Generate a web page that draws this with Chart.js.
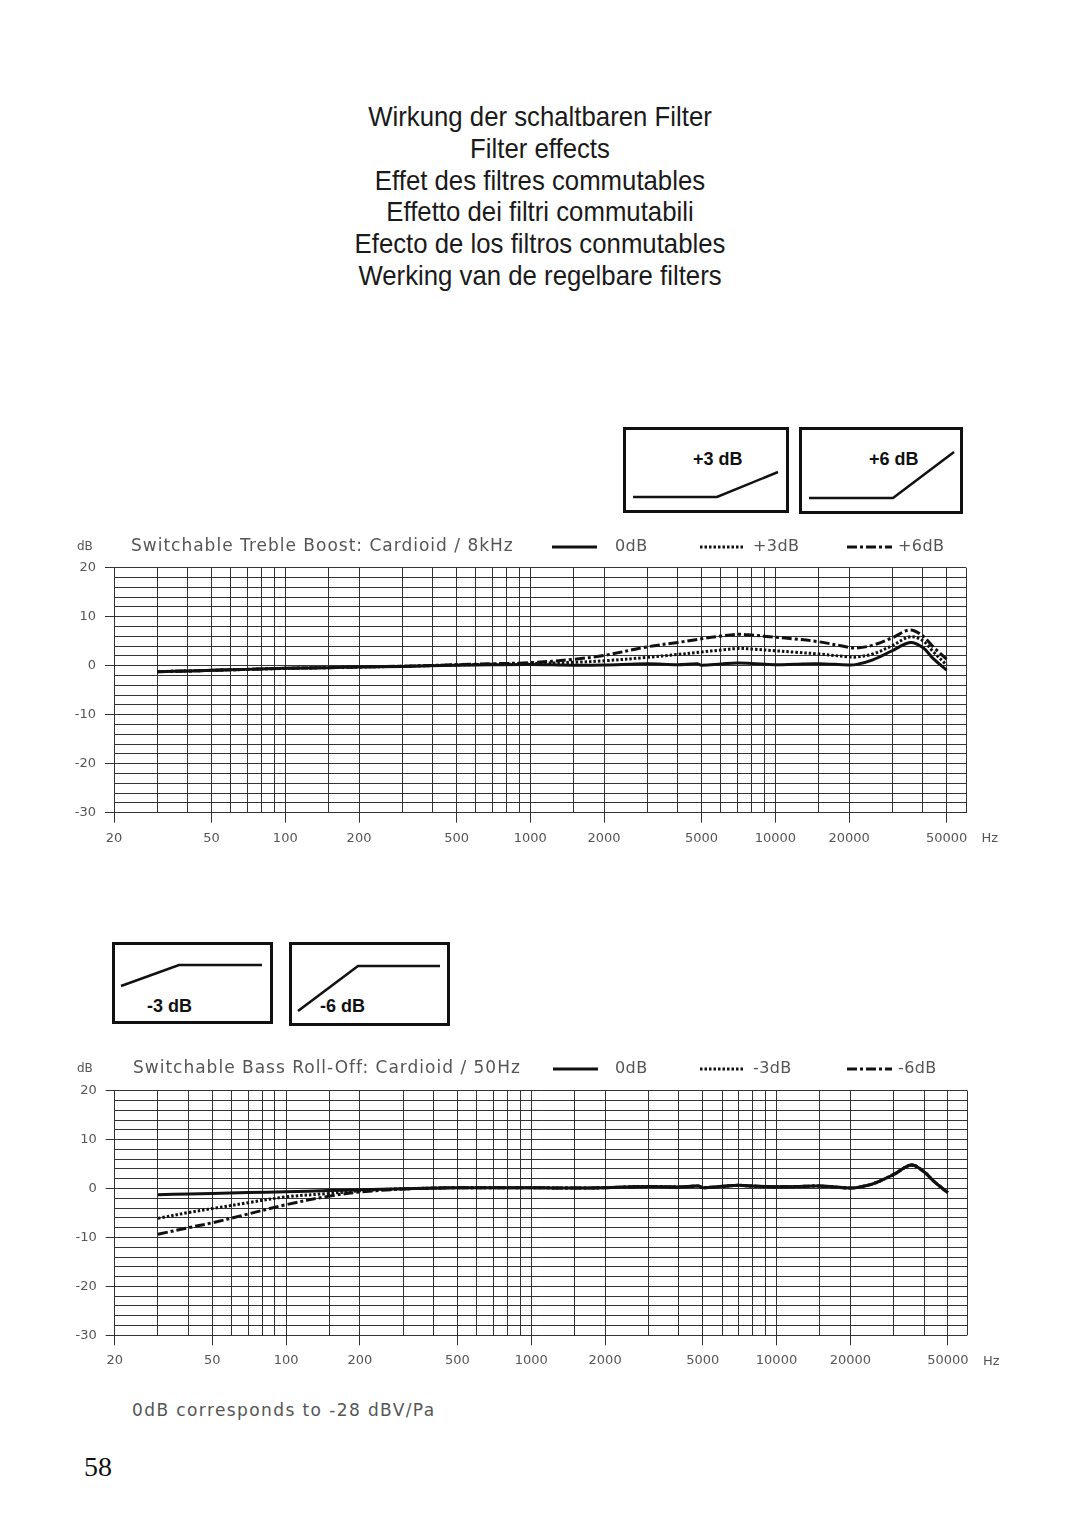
<!DOCTYPE html>
<html>
<head>
<meta charset="utf-8">
<title>Filter effects</title>
<script src="https://cdn.jsdelivr.net/npm/chart.js@4.4.1/dist/chart.umd.min.js"></script>
<style>
  body { margin: 0; background: #fff; }
  #page { position: relative; width: 1080px; height: 1521px; overflow: hidden; background: #fff; }
  .titles {
    position: absolute; left: 0; top: 101px; width: 1080px; text-align: center;
    font-family: "Liberation Sans", Arial, sans-serif;
    font-size: 28px; line-height: 31.8px; color: #1a1a1a;
    transform: scaleX(0.92); transform-origin: 540px 0;
  }
  canvas { position: absolute; left: 0; }
  #icons { position: absolute; left: 0; top: 0; }
  .note {
    position: absolute; left: 132px; top: 1400px; font-family: "DejaVu Sans", sans-serif;
    font-size: 17px; letter-spacing: 1.4px; color: #555;
  }
  .pageno {
    position: absolute; left: 84px; top: 1451px; font-family: "Liberation Serif", serif;
    font-size: 28px; color: #111;
  }
</style>
</head>
<body>
<div id="page">
  <div class="titles">
    <div>Wirkung der schaltbaren Filter</div>
    <div>Filter effects</div>
    <div>Effet des filtres commutables</div>
    <div>Effetto dei filtri commutabili</div>
    <div>Efecto de los filtros conmutables</div>
    <div>Werking van de regelbare filters</div>
  </div>

  <svg id="icons" width="1080" height="1521">
    <g fill="none" stroke="#111">
      <rect x="624.5" y="428.5" width="163" height="83" stroke-width="3"/>
      <rect x="800.5" y="428.5" width="161" height="84" stroke-width="3"/>
      <polyline points="633,497 717,497 778,472" stroke-width="2.5"/>
      <polyline points="809,498 893,498 954,452" stroke-width="2.5"/>
      <rect x="113.5" y="943.5" width="158" height="79" stroke-width="3"/>
      <rect x="290.5" y="943.5" width="158" height="81" stroke-width="3"/>
      <polyline points="121,986 179,965 262,965" stroke-width="2.5"/>
      <polyline points="298,1011 358,966 440,966" stroke-width="2.5"/>
    </g>
    <g fill="#111" font-family="Liberation Sans, Arial, sans-serif" font-weight="bold" font-size="18">
      <text x="693" y="465">+3 dB</text>
      <text x="869" y="465">+6 dB</text>
      <text x="147" y="1012">-3 dB</text>
      <text x="320" y="1012">-6 dB</text>
    </g>
  </svg>

  <canvas id="treble" width="1080" height="320" style="top:530px"></canvas>
  <canvas id="bass" width="1080" height="325" style="top:1050px"></canvas>

  <div class="note">0dB corresponds to -28 dBV/Pa</div>
  <div class="pageno">58</div>
</div>

<script>
// Measured frequencies (Hz), shared by all curves
const freqs = [30, 40, 50, 70, 100, 150, 200, 300, 500, 700, 1000, 1500, 2000, 3000, 4000, 4800, 5000,
               6000, 7000, 8000, 10000, 12000, 15000, 20000, 21500, 25000, 30000, 35500, 40000, 44000, 50000];

// Treble boost (dB)
const trebleFlat = [-1.22, -1.08, -0.95, -0.75, -0.54, -0.4, -0.27, -0.14, 0.1, 0.2, 0.25, 0.1, 0.15, 0.4, 0.2, 0.4, 0.1,
                    0.35, 0.55, 0.45, 0.2, 0.3, 0.4, 0.15, 0.27, 1.2, 3.05, 4.75, 3.7, 1.5, -0.9];
const treblePlus3 = [-1.22, -1.08, -0.95, -0.75, -0.54, -0.4, -0.27, -0.12, 0.15, 0.3, 0.45, 0.68, 1.0, 1.7, 2.3, 2.7, 2.8,
                     3.2, 3.5, 3.4, 3.05, 2.75, 2.4, 1.8, 1.78, 2.4, 4.1, 5.9, 5.1, 2.9, 0.15];
const treblePlus6 = [-1.22, -1.08, -0.95, -0.75, -0.54, -0.4, -0.25, -0.1, 0.2, 0.4, 0.62, 1.3, 2.1, 3.85, 4.75, 5.35, 5.5,
                     6.05, 6.4, 6.25, 5.8, 5.45, 4.9, 3.75, 3.6, 4.2, 5.7, 7.3, 6.05, 3.9, 1.35];

// Bass roll-off (dB)
const bassFlat = [-1.26, -1.12, -1.0, -0.82, -0.65, -0.42, -0.24, -0.03, 0.17, 0.17, 0.17, 0.1, 0.17, 0.44, 0.3, 0.5, 0.17,
                  0.45, 0.65, 0.5, 0.37, 0.4, 0.5, 0.1, 0.24, 1.05, 2.85, 4.8, 3.4, 1.4, -0.85];
const bassMinus3 = [-6.1, -4.9, -4.1, -2.9, -1.7, -1.0, -0.44, -0.05, 0.17, 0.17, 0.17, 0.1, 0.17, 0.44, 0.3, 0.5, 0.17,
                    0.45, 0.65, 0.5, 0.37, 0.4, 0.5, 0.1, 0.24, 1.05, 2.85, 4.8, 3.4, 1.4, -0.85];
const bassMinus6 = [-9.35, -8.0, -7.0, -5.2, -3.3, -1.55, -0.71, -0.1, 0.17, 0.17, 0.17, 0.1, 0.17, 0.44, 0.3, 0.5, 0.17,
                    0.45, 0.65, 0.5, 0.37, 0.4, 0.5, 0.1, 0.24, 1.05, 2.85, 4.8, 3.4, 1.4, -0.85];

// Axis grid and labels
const gridFreqs = [20, 30, 40, 50, 60, 70, 80, 90, 100, 150, 200, 300, 400, 500, 600, 700, 800, 900, 1000,
                   1500, 2000, 3000, 4000, 5000, 6000, 7000, 8000, 9000, 10000, 15000, 20000, 30000, 40000, 50000, 60000];
const labelFreqs = [20, 50, 100, 200, 500, 1000, 2000, 5000, 10000, 20000, 50000];
const dbLabels = [20, 10, 0, -10, -20, -30];

const GRID = '#333';
const TEXT = '#555';
const FONT = '"DejaVu Sans", sans-serif';

function points(values) {
    return freqs.map((f, i) => ({ x: f, y: values[i] }));
}

function line(label, values, dash) {
    return {
        label: label,
        data: points(values),
        borderColor: '#111',
        borderWidth: 3,
        borderDash: dash,
        borderCapStyle: 'butt',
        pointRadius: 0,
        tension: 0.35,
        fill: false
    };
}

/**
 * Draws the header line (unit, title, legend) and the "Hz" unit
 */
const headerPlugin = {
    id: 'pageHeader',
    afterDraw(chart, args, opts) {
        const ctx = chart.ctx;
        ctx.save();
        ctx.fillStyle = TEXT;
        ctx.textBaseline = 'middle';
        ctx.font = '12px ' + FONT;
        ctx.fillText('dB', 77, opts.y);

        ctx.font = '17px ' + FONT;
        ctx.letterSpacing = '1px';
        ctx.fillText(opts.title, opts.titleX, opts.y);

        ctx.font = '16px ' + FONT;
        ctx.letterSpacing = '0.4px';
        chart.data.datasets.forEach((ds, i) => {
            const x0 = opts.legendX[i];
            ctx.beginPath();
            ctx.setLineDash(ds.borderDash || []);
            ctx.lineWidth = 3;
            ctx.strokeStyle = '#111';
            ctx.moveTo(x0, opts.y);
            ctx.lineTo(x0 + 45, opts.y);
            ctx.stroke();
            ctx.fillText(ds.label, opts.textX[i], opts.y);
        });

        ctx.setLineDash([]);
        ctx.letterSpacing = '0px';
        ctx.font = '13px ' + FONT;
        const xs = chart.scales.x;
        ctx.fillText('Hz', xs.getPixelForValue(50000) + 35, chart.chartArea.bottom + 26);
        ctx.restore();
    }
};

function makeChart(id, datasets, header, area) {
    const canvas = document.getElementById(id);
    return new Chart(canvas.getContext('2d'), {
        type: 'line',
        data: { datasets: datasets },
        options: {
            responsive: false,
            animation: false,
            devicePixelRatio: 1,
            layout: { padding: { left: 0, right: 1080 - area.right, top: area.top, bottom: 0 } },
            plugins: {
                legend: { display: false },
                tooltip: { enabled: false },
                pageHeader: header
            },
            scales: {
                x: {
                    type: 'logarithmic',
                    min: 20,
                    max: 60000,
                    afterBuildTicks: scale => {
                        scale.ticks = gridFreqs.map(v => ({ value: v }));
                    },
                    afterFit: scale => { scale.height = area.xHeight; },
                    border: { display: false },
                    grid: {
                        color: GRID,
                        lineWidth: 1,
                        tickLength: 10,
                        tickColor: c => (c.tick && labelFreqs.includes(c.tick.value)) ? GRID : 'rgba(0,0,0,0)'
                    },
                    ticks: {
                        autoSkip: false,
                        maxRotation: 0,
                        minRotation: 0,
                        padding: 8,
                        color: TEXT,
                        font: { family: FONT, size: 13 },
                        callback: v => labelFreqs.includes(v) ? String(v) : ''
                    }
                },
                y: {
                    type: 'linear',
                    min: -30,
                    max: 20,
                    afterFit: scale => { scale.width = area.left; },
                    border: { display: false },
                    grid: {
                        color: GRID,
                        lineWidth: 1,
                        tickLength: 9,
                        tickColor: c => (c.tick && dbLabels.includes(c.tick.value)) ? GRID : 'rgba(0,0,0,0)'
                    },
                    ticks: {
                        stepSize: 2,
                        autoSkip: false,
                        padding: 9,
                        color: TEXT,
                        font: { family: FONT, size: 13 },
                        callback: v => dbLabels.includes(v) ? String(v) : ''
                    }
                }
            }
        },
        plugins: [headerPlugin]
    });
}

makeChart('treble', [
    line('0dB', trebleFlat, []),
    line('+3dB', treblePlus3, [2.5, 2]),
    line('+6dB', treblePlus6, [10, 3, 3, 3])
], {
    y: 17,
    title: 'Switchable Treble Boost: Cardioid / 8kHz',
    titleX: 131,
    legendX: [552, 700, 847],
    textX: [615, 753, 898]
}, { left: 114, right: 966, top: 37.7, xHeight: 37.3 });

makeChart('bass', [
    line('0dB', bassFlat, []),
    line('-3dB', bassMinus3, [2.5, 2]),
    line('-6dB', bassMinus6, [10, 3, 3, 3])
], {
    y: 19,
    title: 'Switchable Bass Roll-Off: Cardioid / 50Hz',
    titleX: 133,
    legendX: [553, 700, 847],
    textX: [615, 753, 898]
}, { left: 114.7, right: 967.3, top: 40.7, xHeight: 39.7 });
</script>
</body>
</html>
